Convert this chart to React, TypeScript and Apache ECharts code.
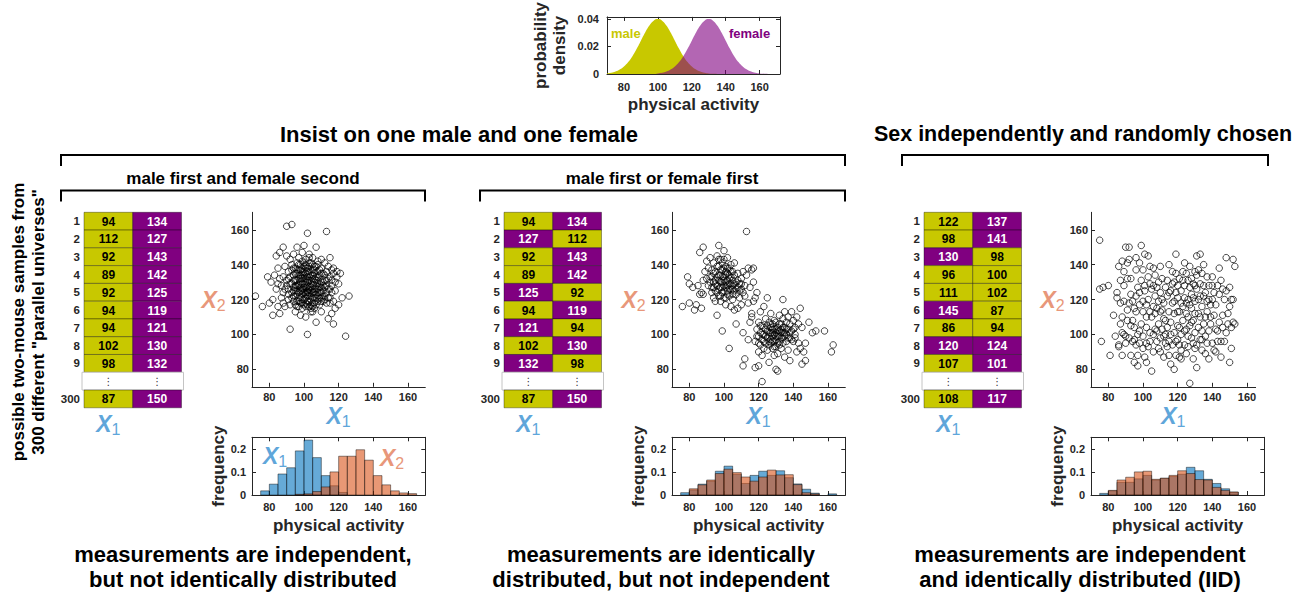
import React, { useEffect, useRef } from 'react';
import * as echarts from 'echarts';

const FONT = '"Liberation Sans", Arial, Helvetica, sans-serif';
const YEL = '#c8c800';
const PUR = '#800080';
const BLUE = '#5fa6da';
const ORNG = '#e8977a';
const AX = '#262626';

// ---------- top density plot ----------
const densityX = [70, 72.5, 75, 77.5, 80, 82.5, 85, 87.5, 90, 92.5, 95, 97.5, 100, 102.5, 105, 107.5, 110, 112.5, 115, 117.5, 120, 122.5, 125, 127.5, 130, 132.5, 135, 137.5, 140, 142.5, 145, 147.5, 150, 152.5, 155, 157.5, 160, 162.5, 165, 167.5, 170];
const maleDensity = [0.00044, 0.00091, 0.00175, 0.00318, 0.0054, 0.00863, 0.01295, 0.01826, 0.0242, 0.03011, 0.0352, 0.03867, 0.0399, 0.03867, 0.0352, 0.03011, 0.0242, 0.01826, 0.01295, 0.00863, 0.0054, 0.00318, 0.00175, 0.00091, 0.00044, 0.0002, 0.00009, 0.00004, 0.00001, 0, 0, 0, 0, 0, 0, 0, 0, 0, 0, 0, 0];
const femaleDensity = [0, 0, 0, 0, 0, 0, 0, 0, 0, 0, 0, 0, 0.00044, 0.00091, 0.00175, 0.00318, 0.0054, 0.00863, 0.01295, 0.01826, 0.0242, 0.03011, 0.0352, 0.03867, 0.0399, 0.03867, 0.0352, 0.03011, 0.0242, 0.01826, 0.01295, 0.00863, 0.0054, 0.00318, 0.00175, 0.00091, 0.00044, 0.0002, 0.00009, 0.00004, 0.00001];
const activityTicks = [80, 100, 120, 140, 160];
const densityTicks = [0, 0.02, 0.04];
const freqTicks = [0, 0.1, 0.2];

// ---------- tables ----------
const rowLabels = ['1', '2', '3', '4', '5', '6', '7', '8', '9', '', '300'];
const colLabels = ['X1', 'X2'];
// sample rows 1..9 and row 300
const p1X1 = [94, 112, 92, 89, 92, 94, 94, 102, 98, 87];
const p1X2 = [134, 127, 143, 142, 125, 119, 121, 130, 132, 150];
const p1X1Sex = ['M', 'M', 'M', 'M', 'M', 'M', 'M', 'M', 'M', 'M'];
const p1X2Sex = ['F', 'F', 'F', 'F', 'F', 'F', 'F', 'F', 'F', 'F'];
const p2X1 = [94, 127, 92, 89, 125, 94, 121, 102, 132, 87];
const p2X2 = [134, 112, 143, 142, 92, 119, 94, 130, 98, 150];
const p2X1Sex = ['M', 'F', 'M', 'M', 'F', 'M', 'F', 'M', 'F', 'M'];
const p2X2Sex = ['F', 'M', 'F', 'F', 'M', 'F', 'M', 'F', 'M', 'F'];
const p3X1 = [122, 98, 130, 96, 111, 145, 86, 120, 107, 108];
const p3X2 = [137, 141, 98, 100, 102, 87, 94, 124, 101, 117];
const p3X1Sex = ['M', 'M', 'F', 'M', 'M', 'F', 'M', 'F', 'M', 'M'];
const p3X2Sex = ['F', 'F', 'M', 'M', 'M', 'M', 'M', 'F', 'F', 'F'];

// ---------- scatter samples (x1, x2) ----------
const p1Points = [[72,122],[76,116],[79,133],[80,118],[81,130],[82,111],[82,120],[83,134],[84,145],[84,126],[85,116],[85,138],[86,147],[86,112],[87,128],[87,121],[88,150],[88,133],[88,124],[89,139],[89,116],[90,162],[90,128],[90,145],[90,131],[91,120],[91,136],[91,126],[92,143],[92,117],[92,103],[92,133],[93,163],[93,124],[93,140],[93,129],[94,119],[94,134],[94,146],[94,127],[95,122],[95,138],[95,131],[95,113],[95,125],[96,141],[96,128],[96,119],[96,135],[96,150],[97,124],[97,132],[97,144],[97,121],[97,137],[98,127],[98,118],[98,140],[98,130],[98,111],[98,134],[99,123],[99,147],[99,129],[99,136],[99,120],[99,142],[100,126],[100,132],[100,117],[100,139],[100,124],[100,151],[101,130],[101,121],[101,135],[101,127],[101,110],[101,143],[102,158],[102,100],[102,133],[102,125],[102,119],[102,138],[102,128],[103,122],[103,136],[103,131],[103,146],[103,116],[103,127],[104,129],[104,134],[104,120],[104,141],[104,125],[104,113],[105,132],[105,124],[105,137],[105,118],[105,128],[105,144],[106,126],[106,121],[106,135],[106,130],[106,115],[107,107],[107,150],[107,133],[107,123],[107,139],[107,128],[108,119],[108,131],[108,126],[108,142],[108,136],[109,124],[109,117],[109,129],[109,134],[110,127],[110,121],[110,138],[110,143],[110,113],[111,130],[111,125],[111,119],[112,134],[112,127],[112,141],[112,122],[113,159],[113,131],[113,118],[113,136],[114,126],[114,139],[114,109],[115,133],[115,121],[115,144],[116,128],[116,137],[116,124],[116,112],[117,106],[117,135],[117,119],[117,138],[118,130],[118,125],[118,115],[119,133],[119,136],[120,117],[120,129],[121,135],[122,121],[124,99],[126,122],[97,128],[98,125],[99,132],[100,129],[101,124],[102,131],[103,126],[104,137],[101,118],[99,126],[97,116],[96,123],[94,122],[95,135],[93,137],[91,132],[89,126],[88,118],[86,132],[85,129],[103,141],[105,121],[106,139],[108,122],[100,136],[102,122],[104,117],[97,140],[95,128],[99,138],
[93,121],[94,131],[94,138],[95,117],[95,127],[96,125],[96,131],[96,137],[97,119],[97,129],[97,134],[98,121],[98,132],[98,137],[99,118],[99,125],[99,134],[100,120],[100,127],[100,134],[100,141],[101,116],[101,123],[101,132],[101,138],[102,117],[102,124],[102,130],[102,136],[103,119],[103,124],[103,133],[103,139],[104,115],[104,122],[104,127],[104,131],[105,116],[105,126],[105,134],[105,140],[106,118],[106,124],[106,132],[106,137],[107,117],[107,121],[107,126],[107,131],[108,124],[108,129],[108,133],[109,121],[109,127],[109,137],[110,119],[110,124],[110,130],[111,122],[111,128],[111,135],[112,120],[112,131],[113,124],[113,128],[114,121],[114,132],[115,118],[115,126],[116,131],[99,115],[101,140],[103,144],[105,113],[96,116],[94,125],[92,129],[91,123],[108,140],[110,135]];
const p2Points = [[76,116],[79,133],[80,118],[80,129],[82,127],[83,114],[84,117],[85,128],[86,147],[86,123],[87,115],[87,124],[88,150],[88,131],[88,123],[89,136],[90,142],[90,132],[91,128],[91,138],[92,133],[92,144],[93,127],[93,137],[94,121],[94,141],[94,130],[95,119],[95,136],[95,125],[96,111],[96,133],[96,145],[96,128],[97,151],[97,122],[97,139],[97,131],[98,127],[98,143],[98,134],[98,119],[99,102],[99,130],[99,137],[99,124],[100,148],[100,128],[100,133],[100,121],[101,136],[101,127],[101,139],[101,117],[102,131],[102,125],[102,144],[102,135],[103,92],[103,129],[103,138],[103,122],[104,133],[104,126],[104,140],[104,116],[105,128],[105,136],[105,120],[105,131],[106,125],[106,141],[106,114],[107,130],[107,123],[107,106],[108,135],[108,127],[108,115],[109,129],[109,121],[110,132],[110,126],[110,117],[111,136],[111,101],[112,128],[112,122],[113,159],[113,134],[114,118],[114,138],[115,127],[116,112],[116,137],[117,130],[117,138],[118,121],[119,124],[97,126],[99,141],[101,130],[95,131],[93,133],[103,134],[105,126],[100,138],[98,130],[102,128],
[92,130],[93,124],[94,135],[95,129],[96,139],[96,124],[97,134],[98,122],[98,137],[99,127],[99,133],[100,125],[100,131],[101,121],[101,134],[102,138],[102,123],[103,126],[103,132],[104,129],[104,136],[105,123],[106,129],[106,134],[107,126],[108,131],[109,125],[110,129],[111,124],[97,143],[94,127],[100,143],
[111,82],[112,86],[114,97],[115,107],[116,110],[117,119],[118,81],[118,96],[119,103],[120,82],[120,90],[120,99],[120,107],[121,94],[121,101],[121,113],[122,73],[122,97],[122,88],[122,105],[123,92],[123,100],[123,116],[124,95],[124,103],[124,109],[125,98],[125,91],[125,121],[126,101],[126,94],[126,84],[127,106],[127,97],[127,112],[128,99],[128,92],[128,103],[129,96],[129,108],[129,88],[130,80],[130,101],[130,97],[130,93],[131,79],[131,104],[131,99],[131,89],[132,102],[132,96],[132,111],[133,98],[133,106],[133,92],[134,101],[134,120],[134,95],[134,109],[135,104],[135,87],[135,113],[136,100],[136,107],[136,96],[137,103],[137,110],[137,91],[138,98],[138,106],[138,85],[139,102],[139,113],[140,96],[140,108],[141,100],[141,104],[142,90],[142,110],[143,95],[143,106],[144,115],[144,92],[145,83],[145,104],[146,90],[147,85],[147,95],[149,107],[151,101],[153,102],[158,102],[162,90],[163,94],[128,101],[130,103],[126,99],[132,94],[129,100],[125,105],[127,95],[133,103],[135,99],
[119,99],[120,95],[121,105],[122,100],[123,96],[123,104],[124,99],[125,102],[126,96],[126,107],[127,101],[128,96],[128,106],[129,103],[130,99],[130,107],[131,95],[131,102],[132,99],[132,106],[133,101],[134,98],[134,104],[135,101],[136,103],[137,98],[138,101],[139,97],[140,103],[141,98],[129,93],[127,104]];
const p3Points = [[75,154],[76,96],[75,126],[77,127],[81,88],[83,111],[85,121],[85,124],[86,94],[86,93],[86,139],[87,131],[87,118],[88,101],[88,88],[88,110],[88,142],[89,128],[89,100],[89,136],[90,150],[90,95],[90,99],[91,141],[91,132],[91,114],[92,150],[92,143],[92,98],[93,88],[93,105],[93,123],[94,96],[94,119],[94,108],[95,115],[95,84],[95,104],[96,137],[96,144],[96,94],[96,113],[97,100],[97,82],[97,127],[97,88],[98,141],[98,117],[98,95],[99,151],[99,131],[99,106],[100,99],[100,92],[100,113],[101,146],[101,125],[101,87],[101,128],[102,95],[102,117],[102,104],[103,133],[103,120],[103,93],[104,129],[104,113],[104,101],[105,79],[105,126],[105,110],[106,138],[106,100],[106,90],[107,122],[107,134],[107,103],[108,127],[108,96],[108,115],[109,119],[109,106],[109,130],[110,113],[110,98],[110,124],[111,120],[111,103],[111,132],[112,109],[112,87],[112,118],[113,95],[113,127],[113,100],[114,104],[114,122],[114,131],[115,88],[115,113],[115,96],[116,125],[116,107],[117,129],[117,94],[117,118],[118,80],[118,101],[118,112],[119,146],[119,124],[119,88],[119,135],[120,105],[120,97],[120,121],[121,87],[121,113],[121,132],[122,86],[122,125],[122,100],[123,116],[123,136],[123,108],[124,94],[124,128],[124,141],[125,103],[125,118],[125,89],[126,131],[126,110],[126,99],[127,72],[127,127],[127,139],[127,105],[128,123],[128,98],[128,115],[129,86],[129,129],[129,108],[130,136],[130,101],[130,119],[131,81],[131,94],[131,145],[131,126],[132,112],[132,104],[132,137],[133,146],[133,122],[133,97],[134,135],[134,116],[134,91],[135,128],[135,106],[136,99],[136,124],[137,113],[137,133],[138,86],[138,120],[138,102],[139,117],[139,106],[140,128],[140,95],[141,111],[141,124],[142,90],[142,103],[143,128],[143,96],[144,138],[144,107],[145,87],[145,131],[146,104],[146,111],[147,96],[147,120],[148,144],[148,125],[149,106],[150,84],[150,116],[151,120],[151,104],[152,143],[152,107],[153,139],[98,124],[107,112],[115,140],[121,104],[125,112],[129,95],[134,102],[110,90],[103,145],[92,118],[130,128],[126,120],[118,130],[112,99],[140,133],[136,89],
[80,128],[84,99],[87,106],[89,119],[91,108],[93,132],[95,97],[96,122],[98,102],[100,119],[100,137],[102,110],[104,96],[104,139],[106,116],[106,128],[108,102],[109,92],[110,139],[111,114],[113,108],[114,93],[115,124],[116,100],[117,136],[118,119],[119,96],[120,128],[120,113],[121,94],[122,118],[123,131],[124,102],[124,121],[125,135],[126,93],[127,117],[128,132],[128,107],[129,121],[130,112],[130,92],[131,134],[132,120],[133,110],[133,129],[134,97],[135,122],[135,140],[136,110],[137,119],[137,95],[138,128],[139,110],[140,120],[141,91],[142,117],[143,102],[144,123],[145,96],[146,126],[148,101],[149,112],[150,127],[151,92],[152,120],[153,106],[116,83],[122,91],[102,84]];

// ---------- histograms (bin edges, frequency per bin) ----------
const binEdges = [75, 80, 85, 90, 95, 100, 105, 110, 115, 120, 125, 130, 135, 140, 145, 150, 155, 160, 165];
const p1FreqX1 = [0.018, 0.047, 0.091, 0.118, 0.191, 0.238, 0.162, 0.084, 0.04, 0.011, 0, 0, 0, 0, 0, 0, 0, 0];
const p1FreqX2 = [0, 0, 0, 0, 0.003, 0.005, 0.015, 0.035, 0.1, 0.168, 0.168, 0.196, 0.151, 0.084, 0.044, 0.018, 0.009, 0.006];
const p2FreqX1 = [0.01, 0.022, 0.047, 0.06, 0.103, 0.125, 0.09, 0.05, 0.085, 0.103, 0.085, 0.105, 0.075, 0.048, 0.025, 0.008, 0, 0.005];
const p2FreqX2 = [0, 0.027, 0.044, 0.065, 0.093, 0.112, 0.097, 0.078, 0.06, 0.078, 0.108, 0.087, 0.088, 0.045, 0.01, 0.005, 0, 0];
const p3FreqX1 = [0.007, 0.018, 0.055, 0.055, 0.07, 0.085, 0.065, 0.072, 0.08, 0.09, 0.12, 0.105, 0.068, 0.05, 0.027, 0.012, 0, 0];
const p3FreqX2 = [0, 0.02, 0.065, 0.077, 0.1, 0.103, 0.068, 0.073, 0.085, 0.105, 0.093, 0.067, 0.065, 0.033, 0.02, 0.013, 0, 0];

// ---------- texts ----------
const headerLeft = 'Insist on one male and one female';
const headerRight = 'Sex independently and randomly chosen';
const subHeaders = ['male first and female second', 'male first or female first'];
const sideLabel = ['possible two-mouse samples from', '300 different "parallel universes"'];
const captions = [
  ['measurements are independent,', 'but not identically distributed'],
  ['measurements are identically', 'distributed, but not independent'],
  ['measurements are independent', 'and identically distributed (IID)'],
];

const XRICH: any = {
  b: { color: BLUE, fill: BLUE, fontSize: 23, fontStyle: 'italic', fontWeight: 'bold', fontFamily: FONT, lineHeight: 27, verticalAlign: 'middle' },
  bs: { color: BLUE, fill: BLUE, fontSize: 16, fontFamily: FONT, lineHeight: 16, verticalAlign: 'bottom' },
  o: { color: ORNG, fill: ORNG, fontSize: 23, fontStyle: 'italic', fontWeight: 'bold', fontFamily: FONT, lineHeight: 27, verticalAlign: 'middle' },
  os: { color: ORNG, fill: ORNG, fontSize: 16, fontFamily: FONT, lineHeight: 16, verticalAlign: 'bottom' },
};
const xLabel = (v: string) => (v === 'X1' ? '{b|X}{bs|1}' : '{o|X}{os|2}');

const LINE = { show: true, onZero: false, lineStyle: { color: AX, width: 1 } };
const tick = (vals: number[]) => ({ show: true, inside: true, length: 4, customValues: vals, lineStyle: { color: AX, width: 1 } });
const lbl = (vals: number[], margin: number, formatter?: any) => ({
  show: true, customValues: vals, margin, fontFamily: FONT, fontWeight: 'bold', fontSize: 11, color: AX, formatter,
});
const freqFmt = (v: number) => (v === 0 ? '0' : v.toFixed(1));
const densFmt = (v: number) => (v === 0 ? '0' : v.toFixed(2));
const nameStyle = { fontFamily: FONT, fontWeight: 'bold', fontSize: 17, color: AX };

function buildOption() {
  const grid: any[] = [];
  const xAxis: any[] = [];
  const yAxis: any[] = [];
  const series: any[] = [];
  const graphic: any[] = [];

  // density
  grid.push({ left: 607, top: 15, width: 173, height: 59 });
  xAxis.push({ gridIndex: 0, type: 'value', min: 70, max: 172, axisLine: LINE, axisTick: tick(activityTicks), axisLabel: lbl(activityTicks, 7), splitLine: { show: false },
    name: 'physical activity', nameLocation: 'middle', nameGap: 22, nameTextStyle: nameStyle });
  xAxis.push({ gridIndex: 0, type: 'value', position: 'top', min: 70, max: 172, axisLine: LINE, axisTick: tick(activityTicks), axisLabel: { show: false }, splitLine: { show: false } });
  yAxis.push({ gridIndex: 0, type: 'value', min: 0, max: 0.0415, axisLine: LINE, axisTick: tick(densityTicks), axisLabel: lbl(densityTicks, 8, densFmt), splitLine: { show: false },
    name: 'probability\ndensity', nameLocation: 'middle', nameGap: 38, nameTextStyle: { ...nameStyle, lineHeight: 19 } });
  yAxis.push({ gridIndex: 0, type: 'value', position: 'right', min: 0, max: 0.0415, axisLine: LINE, axisTick: tick(densityTicks), axisLabel: { show: false }, splitLine: { show: false } });
  series.push({ type: 'line', xAxisIndex: 0, yAxisIndex: 0, data: densityX.map((x, i) => [x, maleDensity[i]]), smooth: true, symbol: 'none',
    lineStyle: { width: 0, opacity: 0 }, areaStyle: { color: YEL, opacity: 1 } });
  series.push({ type: 'line', xAxisIndex: 0, yAxisIndex: 0, data: densityX.map((x, i) => [x, femaleDensity[i]]), smooth: true, symbol: 'none',
    lineStyle: { width: 0, opacity: 0 }, areaStyle: { color: PUR, opacity: 0.6 } });
  graphic.push({ type: 'text', x: 611, y: 33, style: { text: 'male', fill: YEL, fontFamily: FONT, fontWeight: 'bold', fontSize: 13, align: 'left', verticalAlign: 'middle' } });
  graphic.push({ type: 'text', x: 729, y: 33, style: { text: 'female', fill: PUR, fontFamily: FONT, fontWeight: 'bold', fontSize: 13, align: 'left', verticalAlign: 'middle' } });

  const panels = [
    { tableLeft: 84, plotLeft: 252, xMax: 170, x1: p1X1, x2: p1X2, s1: p1X1Sex, s2: p1X2Sex, pts: p1Points, f1: p1FreqX1, f2: p1FreqX2 },
    { tableLeft: 504, plotLeft: 672, xMax: 170, x1: p2X1, x2: p2X2, s1: p2X1Sex, s2: p2X2Sex, pts: p2Points, f1: p2FreqX1, f2: p2FreqX2 },
    { tableLeft: 924, plotLeft: 1091, xMax: 165, x1: p3X1, x2: p3X2, s1: p3X1Sex, s2: p3X2Sex, pts: p3Points, f1: p3FreqX1, f2: p3FreqX2 },
  ];

  panels.forEach((p) => {
    // ---- table ----
    const gT = grid.length;
    grid.push({ left: p.tableLeft, top: 212.3, width: 97.5, height: 195.5 });
    const xT = xAxis.length;
    xAxis.push({ gridIndex: gT, type: 'category', data: colLabels, axisLine: { show: false }, axisTick: { show: false },
      axisLabel: { margin: 3, formatter: xLabel, rich: XRICH } });
    const yT = yAxis.length;
    yAxis.push({ gridIndex: gT, type: 'category', data: rowLabels, inverse: true, axisLine: { show: false }, axisTick: { show: false },
      axisLabel: { margin: 4, fontFamily: FONT, fontWeight: 'bold', fontSize: 11.5, color: AX, interval: 0 } });
    const cells: any[] = [];
    rowLabels.forEach((r, ri) => {
      const si = ri < 9 ? ri : ri === 10 ? 9 : -1;
      [0, 1].forEach((c) => {
        if (si < 0) cells.push({ c, r: ri, text: '⋮', sex: 'G' });
        else cells.push({ c, r: ri, text: String(c === 0 ? p.x1[si] : p.x2[si]), sex: c === 0 ? p.s1[si] : p.s2[si] });
      });
    });
    series.push({
      type: 'custom', xAxisIndex: xT, yAxisIndex: yT, data: cells.map((c) => [c.c, c.r]), encode: { x: 0, y: 1 },
      renderItem: (params: any, api: any) => {
        const cell = cells[params.dataIndex];
        const pt = api.coord([api.value(0), api.value(1)]);
        const sz = api.size([1, 1]);
        const w = sz[0], h = sz[1];
        if (cell.sex === 'G') {
          const children: any[] = [];
          if (cell.c === 0) {
            children.push({ type: 'rect', shape: { x: pt[0] - w / 2 - 2, y: pt[1] - h / 2, width: 2 * w + 4, height: h },
              style: { fill: '#fff', stroke: '#c4c4c4', lineWidth: 1 } });
          }
          children.push({ type: 'text', x: pt[0], y: pt[1], z2: 5, style: { text: cell.text, fill: '#333', fontFamily: '"DejaVu Sans", sans-serif', fontSize: 10, align: 'center', verticalAlign: 'middle' } });
          return { type: 'group', children };
        }
        const male = cell.sex === 'M';
        return { type: 'group', children: [
          { type: 'rect', shape: { x: pt[0] - w / 2, y: pt[1] - h / 2, width: w, height: h },
            style: { fill: male ? YEL : PUR, stroke: 'rgba(0,0,0,0.35)', lineWidth: 1 } },
          { type: 'text', x: pt[0], y: pt[1] + 0.5, style: { text: cell.text, fill: male ? '#000' : '#fff', fontFamily: FONT, fontWeight: 'bold', fontSize: 12, align: 'center', verticalAlign: 'middle' } },
        ] };
      },
    });

    // ---- scatter ----
    const gS = grid.length;
    grid.push({ left: p.plotLeft, top: 212.3, width: (p.xMax - 70) * 1.733, height: 174.5 });
    const xS = xAxis.length;
    xAxis.push({ gridIndex: gS, type: 'value', min: 70, max: p.xMax, axisLine: LINE, axisTick: tick(activityTicks), axisLabel: lbl(activityTicks, 5), splitLine: { show: false },
      name: '{b|X}{bs|1}', nameLocation: 'middle', nameGap: 16, nameTextStyle: { rich: XRICH } });
    const yS = yAxis.length;
    yAxis.push({ gridIndex: gS, type: 'value', min: 70, max: 170, axisLine: LINE, axisTick: tick(activityTicks), axisLabel: lbl(activityTicks, 3), splitLine: { show: false },
      name: '{o|X}{os|2}', nameLocation: 'middle', nameRotate: 0, nameGap: 26, nameTextStyle: { rich: XRICH } });
    series.push({ type: 'scatter', xAxisIndex: xS, yAxisIndex: yS, data: p.pts, symbol: 'circle', symbolSize: 6.5,
      itemStyle: { color: 'rgba(0,0,0,0)', borderColor: '#000', borderWidth: 0.9 } });

    // ---- histogram ----
    const gH = grid.length;
    grid.push({ left: p.plotLeft, top: 437.3, width: 173.3, height: 57.7 });
    const xH = xAxis.length;
    xAxis.push({ gridIndex: gH, type: 'value', min: 70, max: 170, axisLine: LINE, axisTick: tick(activityTicks), axisLabel: lbl(activityTicks, 6), splitLine: { show: false },
      name: 'physical activity', nameLocation: 'middle', nameGap: 22, nameTextStyle: nameStyle });
    xAxis.push({ gridIndex: gH, type: 'value', position: 'top', min: 70, max: 170, axisLine: LINE, axisTick: tick(activityTicks), axisLabel: { show: false }, splitLine: { show: false } });
    const yH = yAxis.length;
    yAxis.push({ gridIndex: gH, type: 'value', min: 0, max: 0.25, axisLine: LINE, axisTick: tick(freqTicks), axisLabel: lbl(freqTicks, 6, freqFmt), splitLine: { show: false },
      name: 'frequency', nameLocation: 'middle', nameGap: 21, nameTextStyle: nameStyle });
    yAxis.push({ gridIndex: gH, type: 'value', position: 'right', min: 0, max: 0.25, axisLine: LINE, axisTick: tick(freqTicks), axisLabel: { show: false }, splitLine: { show: false } });
    const histSeries = (freq: number[], fill: string) => {
      const rows = freq.map((f, i) => [binEdges[i], binEdges[i + 1], f]).filter((r) => r[2] > 0);
      return {
        type: 'custom', xAxisIndex: xH, yAxisIndex: yH, data: rows, encode: { x: [0, 1], y: 2 },
        renderItem: (params: any, api: any) => {
          const a = api.coord([api.value(0), 0]);
          const b = api.coord([api.value(1), api.value(2)]);
          return { type: 'rect', shape: { x: a[0], y: b[1], width: b[0] - a[0], height: a[1] - b[1] },
            style: { fill, stroke: 'rgba(0,0,0,0.55)', lineWidth: 0.8 } };
        },
      };
    };
    series.push(histSeries(p.f1, 'rgba(0,114,189,0.6)'));
    series.push(histSeries(p.f2, 'rgba(217,83,25,0.6)'));
  });

  // annotations in first histogram
  graphic.push({ type: 'text', x: 275, y: 456, style: { text: '{b|X}{bs|1}', rich: XRICH, align: 'center', verticalAlign: 'middle' } });
  graphic.push({ type: 'text', x: 392, y: 458, style: { text: '{o|X}{os|2}', rich: XRICH, align: 'center', verticalAlign: 'middle' } });

  // brackets
  const bracket = (x0: number, x1: number, y: number, drop: number) => ({
    type: 'polyline', shape: { points: [[x0, y + drop], [x0, y], [x1, y], [x1, y + drop]] }, style: { stroke: '#000', lineWidth: 2, fill: null },
  });
  graphic.push(bracket(61, 845, 155, 11));
  graphic.push(bracket(902, 1268, 155, 11));
  graphic.push(bracket(61, 425, 190.5, 11));
  graphic.push(bracket(480, 845, 190.5, 11));

  const txt = (text: string, x: number, y: number, size: number, rotation = 0) => ({
    type: 'text', x, y, rotation, style: { text, fill: '#000', fontFamily: FONT, fontWeight: 'bold', fontSize: size, align: 'center', verticalAlign: 'middle' },
  });
  graphic.push(txt(headerLeft, 459, 134, 22));
  graphic.push(txt(headerRight, 1083, 134, 21.5));
  graphic.push(txt(subHeaders[0], 243, 178, 17));
  graphic.push(txt(subHeaders[1], 662, 178, 17));
  graphic.push(txt(sideLabel[0], 18, 322, 17, Math.PI / 2));
  graphic.push(txt(sideLabel[1], 38, 322, 17, Math.PI / 2));
  const capX = [243, 661, 1080];
  captions.forEach((c, i) => {
    graphic.push(txt(c[0], capX[i], 554, 22));
    graphic.push(txt(c[1], capX[i], 579, 22));
  });

  return { animation: false, textStyle: { fontFamily: FONT }, grid, xAxis, yAxis, series, graphic };
}

export default function App() {
  const ref = useRef<HTMLDivElement>(null);
  useEffect(() => {
    if (!ref.current) return;
    const chart = echarts.init(ref.current, undefined, { renderer: 'svg' });
    chart.setOption(buildOption() as any);
    return () => chart.dispose();
  }, []);
  return <div ref={ref} style={{ position: 'fixed', left: 0, top: 0, width: 1304, height: 598, background: '#fff' }} />;
}
